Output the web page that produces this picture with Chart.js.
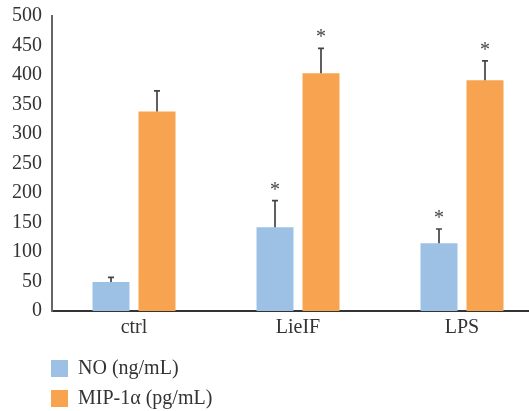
<!DOCTYPE html>
<html>
<head>
<meta charset="utf-8">
<script src="https://cdn.jsdelivr.net/npm/chart.js@4/dist/chart.umd.min.js"></script>
<style>
  html, body { margin: 0; padding: 0; overflow: hidden; background: #fff; }
  canvas { display: block; }
</style>
</head>
<body>
<canvas id="myChart" width="544" height="411"></canvas>
<script>
// values
let categories = ["ctrl", "LieIF", "LPS"]
let noValues = [49, 142, 115]
let noErrors = [8, 45, 24]
let mipValues = [338, 403, 391]
let mipErrors = [35, 42, 33]
let noStars = [false, true, true]
let mipStars = [false, true, true]
let yTicks = [0, 50, 100, 150, 200, 250, 300, 350, 400, 450, 500]

let errors = [noErrors, mipErrors]
let stars = [noStars, mipStars]
let textColor = '#333333'
let serif = "'Liberation Serif', 'Times New Roman', serif"

// draws the upper error bars and the asterisks
let errorBars = {
    id: 'errorBars',
    afterLayout(chart) {
        // legend starts under the y axis labels, not at the canvas edge
        chart.legend.left = 41
    },
    afterDatasetsDraw(chart) {
        let c = chart.ctx
        let y = chart.scales.y
        chart.data.datasets.forEach((ds, d) => {
            let meta = chart.getDatasetMeta(d)
            meta.data.forEach((bar, i) => {
                let top = y.getPixelForValue(ds.data[i] + errors[d][i])
                c.save()
                c.strokeStyle = '#444444'
                c.lineWidth = 1.7
                c.beginPath()
                c.moveTo(bar.x, bar.y)
                c.lineTo(bar.x, top)
                c.moveTo(bar.x - 3, top)
                c.lineTo(bar.x + 3, top)
                c.stroke()
                if (stars[d][i]) {
                    c.fillStyle = '#444444'
                    c.font = "20px " + serif
                    c.textAlign = 'center'
                    c.textBaseline = 'alphabetic'
                    c.fillText('*', bar.x, top - 5)
                }
                c.restore()
            })
        })
    }
}

let ctx = document.querySelector("#myChart")
let graphData = {
    type: 'bar',
    data: {
        labels: categories,
        datasets: [{
            label: 'NO (ng/mL)',
            data: noValues,
            backgroundColor: '#9DC1E5'
        }, {
            label: 'MIP-1\u03b1 (pg/mL)',
            data: mipValues,
            backgroundColor: '#F8A34F'
        }]
    },
    options: {
        responsive: false,
        animation: false,
        devicePixelRatio: 1,
        categoryPercentage: 0.561,
        barPercentage: 0.804,
        layout: { padding: { left: 0, top: 16, right: 0, bottom: 0 } },
        scales: {
            x: {
                grid: { display: false, drawTicks: false },
                border: { color: '#333333', width: 2 },
                ticks: { color: textColor, font: { family: serif, size: 20 }, padding: 5 },
                afterFit(scale) { scale.height = 37.5 }
            },
            y: {
                min: 0,
                max: 500,
                grid: { display: false, drawTicks: false },
                border: { color: '#666666', width: 2 },
                afterBuildTicks(scale) { scale.ticks = yTicks.map(v => ({ value: v })) },
                ticks: { color: textColor, font: { family: serif, size: 20 }, padding: 10 },
                afterFit(scale) {
                    scale.width = 52
                    scale.paddingTop = 0
                    scale.paddingBottom = 0
                }
            }
        },
        plugins: {
            tooltip: { enabled: false },
            legend: {
                position: 'bottom',
                align: 'start',
                maxHeight: 62.5,
                labels: {
                    boxWidth: 17,
                    boxHeight: 17,
                    padding: 10,
                    color: textColor,
                    font: { family: serif, size: 20 },
                    // pad the text so each entry sits on its own row
                    generateLabels(chart) {
                        let items = Chart.defaults.plugins.legend.labels.generateLabels(chart)
                        items.forEach(it => {
                            it.text = it.text + ' '.repeat(60)
                            it.lineWidth = 0
                            it.strokeStyle = 'rgba(0,0,0,0)'
                        })
                        return items
                    }
                }
            }
        }
    },
    plugins: [errorBars]
}
let myChart = new Chart(ctx, graphData)
</script>
</body>
</html>
